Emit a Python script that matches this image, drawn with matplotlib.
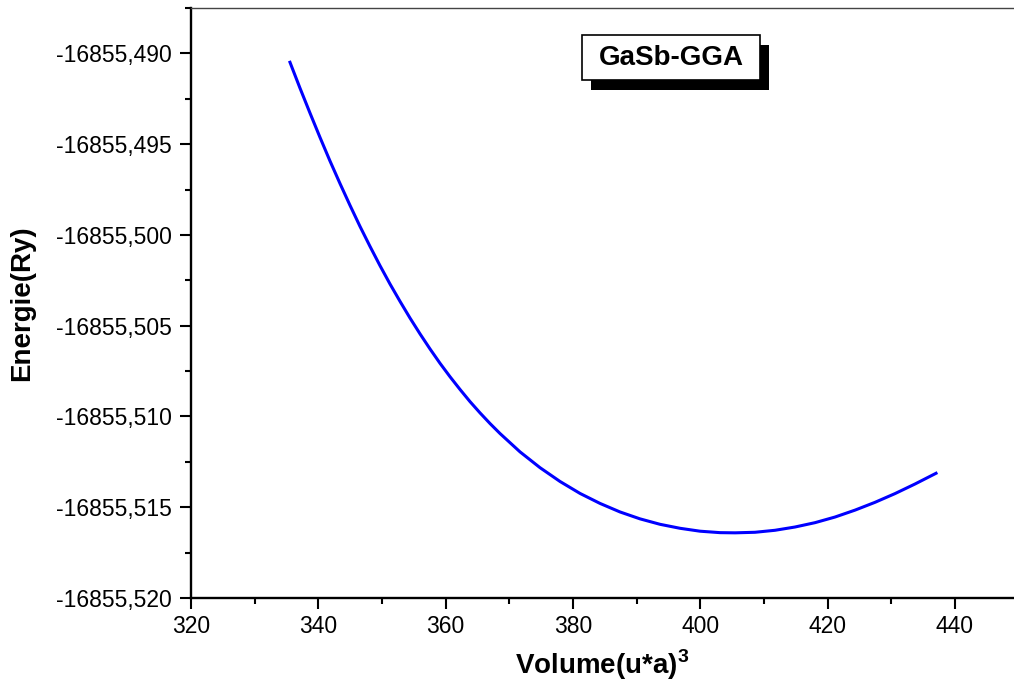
import matplotlib.pyplot as plt
from matplotlib.ticker import MultipleLocator, AutoMinorLocator, FuncFormatter
from matplotlib.patches import Rectangle

plt.rcParams['font.family'] = ['Liberation Sans', 'DejaVu Sans']
plt.rcParams['mathtext.fontset'] = 'custom'
plt.rcParams['mathtext.bf'] = 'Liberation Sans:bold'
plt.rcParams['mathtext.rm'] = 'Liberation Sans'

# E(V) curve for GaSb (GGA), volume in bohr^3, energy in Ry
volume = [335.55, 337.12, 338.70, 340.27, 341.84, 343.41, 344.98, 346.55,
          348.12, 349.69, 351.26, 352.84, 354.41, 355.98, 357.55, 359.12,
          360.69, 362.26, 363.83, 365.40, 366.98, 368.55, 371.69, 374.83,
          377.97, 381.12, 384.26, 387.40, 390.54, 393.68, 396.83, 399.97,
          403.11, 405.47, 408.61, 411.75, 414.89, 418.04, 421.18, 424.32,
          427.46, 430.60, 433.75, 437.05]
energy = [-16855.49049, -16855.49191, -16855.49329, -16855.49463, -16855.49593,
          -16855.49717, -16855.49837, -16855.49953, -16855.50063, -16855.50169,
          -16855.50270, -16855.50366, -16855.50458, -16855.50545, -16855.50628,
          -16855.50707, -16855.50781, -16855.50851, -16855.50918, -16855.50980,
          -16855.51039, -16855.51094, -16855.51195, -16855.51282, -16855.51358,
          -16855.51424, -16855.51479, -16855.51526, -16855.51564, -16855.51594,
          -16855.51616, -16855.51632, -16855.51640, -16855.51641, -16855.51638,
          -16855.51627, -16855.51609, -16855.51585, -16855.51554, -16855.51516,
          -16855.51473, -16855.51425, -16855.51372, -16855.51313]

W, H = 1014, 693
fig = plt.figure(figsize=(W / 100, H / 100), dpi=100)
ax = fig.add_axes([191 / W, 1 - 598 / H, 1 - 191 / W, 590 / H])

ax.plot(volume, energy, color='#0000ff', lw=2.2, solid_joinstyle='round')

ax.set_xlim(320, 449.3)
ax.set_ylim(-16855.520, -16855.4875)

ax.xaxis.set_major_locator(MultipleLocator(20))
ax.xaxis.set_minor_locator(AutoMinorLocator(2))
ax.yaxis.set_major_locator(MultipleLocator(0.005))
ax.yaxis.set_minor_locator(AutoMinorLocator(2))
ax.yaxis.set_major_formatter(FuncFormatter(lambda v, p: f"{v:.3f}".replace('.', ',')))

ax.tick_params(which='major', direction='out', length=8, width=1.5, labelsize=16.5, pad=4)
ax.tick_params(which='minor', direction='out', length=4.3, width=1.5)
ax.tick_params(axis='y', which='major', pad=6)

for side in ('left', 'bottom'):
    ax.spines[side].set_linewidth(1.7)
ax.spines['right'].set_visible(False)
ax.spines['top'].set_linewidth(1.0)
ax.spines['top'].set_color('#444444')

ax.set_xlabel(r'Volume(u*a)$^{\mathbf{3}}$', fontsize=20, fontweight='bold')
ax.set_ylabel('Energie(Ry)', fontsize=20, fontweight='bold')
ax.xaxis.set_label_coords((602 - 191) / 823, -50 / 590)
ax.yaxis.set_label_coords((35 - 191) / 823, 0.5)

# title box with drop shadow
def px_rect(x0, y0, x1, y1, **kw):
    return Rectangle((x0 / W, 1 - y1 / H), (x1 - x0) / W, (y1 - y0) / H,
                     transform=fig.transFigure, **kw)

fig.patches.append(px_rect(591, 45, 769, 90, facecolor='black', edgecolor='none'))
fig.patches.append(px_rect(582, 35, 760, 80, facecolor='white', edgecolor='black', lw=1.2))
fig.text(671 / W, 1 - 58 / H, 'GaSb-GGA', fontsize=20, fontweight='bold',
         ha='center', va='center')

fig.savefig('out.png', dpi=100)
